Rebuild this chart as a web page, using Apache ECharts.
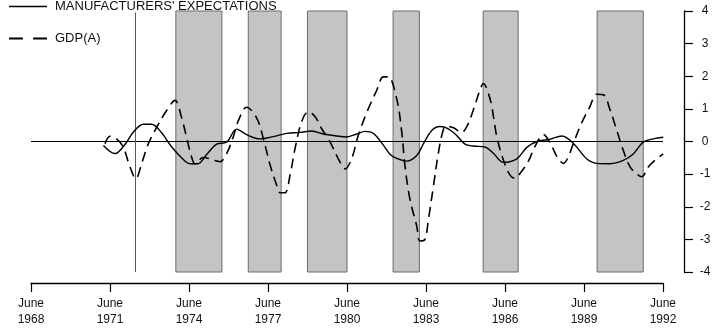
<!DOCTYPE html>
<html>
<head>
<meta charset="utf-8">
<script src="https://cdn.jsdelivr.net/npm/echarts@6/dist/echarts.min.js"></script>
<style>
  html, body { margin: 0; padding: 0; background: #fff; }
  #chart { width: 728px; height: 330px; }
</style>
</head>
<body>
<div id="chart"></div>
<script>
// Time is in decimal years (1971.5 = June/July 1971).
const mfgYears = [1971.25, 1971.69, 1972.07, 1972.39, 1972.77, 1973.08, 1973.46, 1973.78, 1974.16, 1974.54,
  1974.84, 1975.17, 1975.55, 1975.93, 1976.31, 1976.69, 1977.2, 1977.7, 1978.21, 1978.72,
  1979.16, 1979.6, 1980.11, 1980.49, 1980.87, 1981.19, 1981.5, 1981.88, 1982.13, 1982.39,
  1982.77, 1983.15, 1983.4, 1983.72, 1984.03, 1984.35, 1984.67, 1984.98, 1985.3, 1985.74,
  1986.06, 1986.44, 1986.95, 1987.33, 1987.71, 1988.21, 1988.66, 1989.1, 1989.6, 1989.98,
  1990.49, 1990.99, 1991.37, 1991.75, 1992.13, 1992.51];
const mfgValues = [-0.12, -0.37, -0.09, 0.29, 0.53, 0.53, 0.27, -0.1, -0.45, -0.68,
  -0.68, -0.4, -0.08, -0.02, 0.38, 0.21, 0.08, 0.15, 0.25, 0.28,
  0.32, 0.23, 0.17, 0.14, 0.23, 0.31, 0.25, -0.11, -0.39, -0.52,
  -0.6, -0.43, -0.07, 0.34, 0.46, 0.39, 0.18, -0.08, -0.14, -0.17,
  -0.36, -0.64, -0.53, -0.18, 0, 0.07, 0.17, -0.06, -0.53, -0.67,
  -0.68, -0.58, -0.38, -0.02, 0.08, 0.13];

const gdpYears = [1971.31, 1971.5, 1971.75, 1972.0, 1972.26, 1972.48, 1972.7, 1972.95, 1973.27, 1973.65,
  1973.97, 1974.22, 1974.41, 1974.6, 1974.73, 1975.04, 1975.49, 1975.68, 1975.93, 1976.18,
  1976.37, 1976.69, 1977.07, 1977.32, 1977.58, 1977.83, 1977.96, 1978.15, 1978.34, 1978.53,
  1978.78, 1979.03, 1979.29, 1979.54, 1979.86, 1980.17, 1980.43, 1980.68, 1980.93, 1981.25,
  1981.63, 1981.88, 1982.07, 1982.39, 1982.58, 1982.7, 1982.89, 1983.15, 1983.27, 1983.46,
  1983.59, 1983.78, 1983.97, 1984.16, 1984.29, 1984.54, 1984.86, 1985.05, 1985.3, 1985.55,
  1985.68, 1985.87, 1986.0, 1986.19, 1986.44, 1986.69, 1986.88, 1987.07, 1987.39, 1987.64,
  1987.96, 1988.28, 1988.47, 1988.72, 1988.91, 1989.1, 1989.41, 1989.73, 1989.98, 1990.24,
  1990.49, 1990.74, 1990.99, 1991.25, 1991.5, 1991.69, 1991.94, 1992.19, 1992.51];
const gdpValues = [-0.07, 0.16, 0.08, -0.17, -0.78, -1.14, -0.68, -0.08, 0.43, 0.95,
  1.26, 0.73, 0.12, -0.48, -0.69, -0.49, -0.58, -0.62, -0.37, 0.14,
  0.63, 1.05, 0.72, 0.1, -0.72, -1.34, -1.57, -1.57, -1.02, -0.2,
  0.61, 0.91, 0.76, 0.39, -0.02, -0.53, -0.84, -0.52, 0.19, 0.89,
  1.57, 1.98, 1.98, 1.3, 0.28, -0.74, -1.77, -2.6, -3.05, -3.0,
  -2.4, -1.38, -0.35, 0.37, 0.47, 0.42, 0.28, 0.46, 0.97, 1.58,
  1.78, 1.47, 1.06, 0.14, -0.57, -1.03, -1.13, -0.98, -0.6, -0.15,
  0.21, -0.15, -0.46, -0.67, -0.46, -0.05, 0.57, 1.08, 1.45, 1.43,
  0.97, 0.35, -0.27, -0.78, -0.99, -1.08, -0.78, -0.58, -0.38];

// Shaded periods (start, end) and the single marked turning point
const shadeStart = [1974.0, 1976.75, 1979.0, 1982.25, 1985.67, 1990.0];
const shadeEnd   = [1975.75, 1978.0, 1980.5, 1983.25, 1987.0, 1991.75];
const markerYear = 1972.45;

// Axis ticks
const xTickYears = [1968.5, 1971.5, 1974.5, 1977.5, 1980.5, 1983.5, 1986.5, 1989.5, 1992.5];
const xTickLabels = ['June\n1968', 'June\n1971', 'June\n1974', 'June\n1977', 'June\n1980',
  'June\n1983', 'June\n1986', 'June\n1989', 'June\n1992'];
const yTicks = [-4, -3, -2, -1, 0, 1, 2, 3, 4];

const seriesNames = ["MANUFACTURERS' EXPECTATIONS", 'GDP(A)'];

const pair = (xs, ys) => xs.map((x, i) => [x, ys[i]]);
const font = '"Liberation Sans", Arial, Helvetica, sans-serif';
const ink = '#000';

const chart = echarts.init(document.getElementById('chart'), null, { renderer: 'canvas' });

chart.setOption({
  animation: false,
  backgroundColor: '#fff',
  textStyle: { fontFamily: font },
  grid: { left: 31, right: 65, top: 11, height: 261 },
  legend: {
    orient: 'vertical',
    left: 9,
    top: 0,
    padding: 0,
    itemWidth: 38,
    itemHeight: 10,
    itemGap: 19,
    textStyle: { fontFamily: font, fontSize: 13, color: '#111', padding: [0, 0, 0, 3] },
    data: [
      { name: seriesNames[0], icon: 'path://M0,4.3L38,4.3L38,5.7L0,5.7Z', itemStyle: { color: ink } },
      { name: seriesNames[1], icon: 'path://M0,4.2L11,4.2L11,5.8L0,5.8ZM19,4.2L30,4.2L30,5.8L19,5.8Z', itemStyle: { color: ink } }
    ]
  },
  xAxis: {
    type: 'value',
    min: xTickYears[0],
    max: xTickYears[xTickYears.length - 1],
    offset: 11,
    splitLine: { show: false },
    axisLine: { show: true, onZero: false, lineStyle: { color: ink, width: 1.3 } },
    axisTick: { show: true, length: 9, customValues: xTickYears, lineStyle: { color: ink, width: 1.2 } },
    axisLabel: {
      customValues: xTickYears,
      margin: 13,
      fontSize: 12,
      lineHeight: 16,
      color: '#111',
      formatter: v => xTickLabels[xTickYears.indexOf(v)] || ''
    }
  },
  yAxis: {
    type: 'value',
    position: 'right',
    min: yTicks[0],
    max: yTicks[yTicks.length - 1],
    interval: 1,
    offset: 21,
    splitLine: { show: false },
    axisLine: { show: true, lineStyle: { color: ink, width: 1.3 } },
    axisTick: { show: true, length: 9, lineStyle: { color: ink, width: 1.2 } },
    axisLabel: { margin: 21, align: 'center', fontSize: 12, color: '#111' }
  },
  series: [
    {
      name: seriesNames[0],
      type: 'line',
      data: pair(mfgYears, mfgValues),
      smooth: 0.35,
      showSymbol: false,
      lineStyle: { color: ink, width: 1.4 },
      itemStyle: { color: ink },
      z: 5,
      markArea: {
        silent: true,
        itemStyle: { color: '#c4c4c4', borderColor: '#6b6b73', borderWidth: 1 },
        data: shadeStart.map((s, i) => [{ xAxis: s, yAxis: yTicks[yTicks.length - 1] }, { xAxis: shadeEnd[i], yAxis: yTicks[0] }])
      },
      markLine: {
        silent: true,
        symbol: 'none',
        label: { show: false },
        lineStyle: { color: ink, type: 'solid', width: 1.2 },
        data: [
          [{ coord: [xTickYears[0], 0] }, { coord: [xTickYears[xTickYears.length - 1], 0] }],
          [{ coord: [markerYear, yTicks[yTicks.length - 1] - 0.05] }, { coord: [markerYear, yTicks[0]], lineStyle: { color: '#555a66', width: 1 } }]
        ]
      }
    },
    {
      name: seriesNames[1],
      type: 'line',
      data: pair(gdpYears, gdpValues),
      smooth: 0.35,
      showSymbol: false,
      lineStyle: { color: ink, width: 1.6, type: [10, 6] },
      itemStyle: { color: ink },
      z: 6
    }
  ]
});
</script>
</body>
</html>
